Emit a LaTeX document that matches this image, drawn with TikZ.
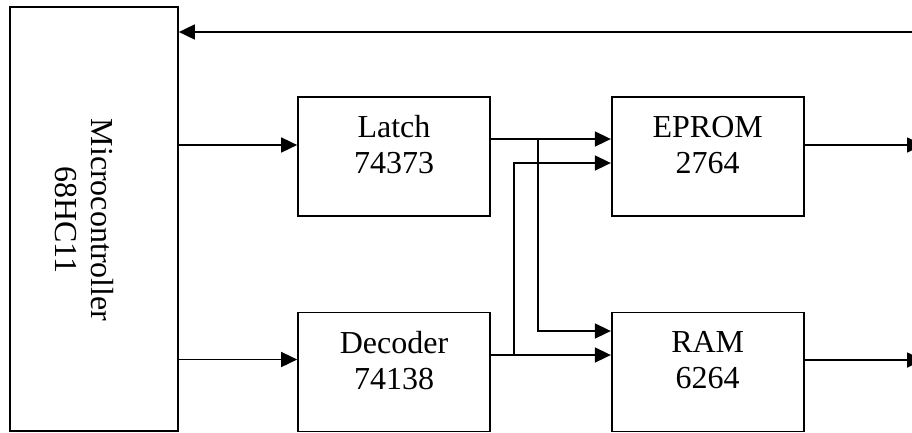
\documentclass[tikz,border=0pt]{standalone}
\usepackage{fontspec}
\setmainfont{Liberation Serif}
\usetikzlibrary{arrows.meta,positioning}

\begin{document}
\begin{tikzpicture}[x=1pt,y=-1pt,line width=1.7pt,
  font=\fontsize{32}{36}\selectfont,
  box/.style={draw,align=center,minimum width=192pt,minimum height=119pt,text depth=24pt,inner sep=0pt},
  a/.style={-{Triangle[length=16pt,width=15pt]}}]
  \clip (0,0) rectangle (912,432);
  \node[draw,minimum width=168pt,minimum height=424pt,inner sep=0pt](mcu) at (94,219){};
  \node[rotate=-90,align=center](mcutxt) at (84,220){Microcontroller\\68HC11};
  \node[box](latch) at (394,156.5){Latch\\74373};
  \node[box](dec) at (394,372){Decoder\\74138};
  \node[box,right=120pt of latch](eprom){EPROM\\2764};
  \node[box,right=120pt of dec](ram){RAM\\6264};
  % bus risers and the free ends at the right edge
  \coordinate (b1) at (538,0);
  \coordinate (b2) at (514,0);
  \coordinate (fb) at (930,32);
  \coordinate (o1) at (923,0);
  % microcontroller outputs and the return line
  \draw[a](fb) -- (fb -| mcu.east);
  \draw[a]([yshift=11.5pt]latch.west -| mcu.east) -- ([yshift=11.5pt]latch.west);
  \draw[a]([yshift=12.5pt]dec.west -| mcu.east) -- ([yshift=12.5pt]dec.west);
  % address lines to the memories
  \draw[a]([yshift=17.5pt]latch.east) -- ([yshift=17.5pt]eprom.west);
  \draw[a]([yshift=17.5pt]latch.east -| b1) |- ([yshift=41pt]ram.west);
  \draw[a]([yshift=17pt]dec.east) -- ([yshift=17pt]ram.west);
  \draw[a]([yshift=17pt]dec.east -| b2) |- ([yshift=-6.5pt]eprom.west);
  % memory outputs
  \draw[a]([yshift=11.5pt]eprom.east) -- ([yshift=11.5pt]eprom.east -| o1);
  \draw[a]([yshift=12pt]ram.east) -- ([yshift=12pt]ram.east -| o1);
\end{tikzpicture}
\end{document}
